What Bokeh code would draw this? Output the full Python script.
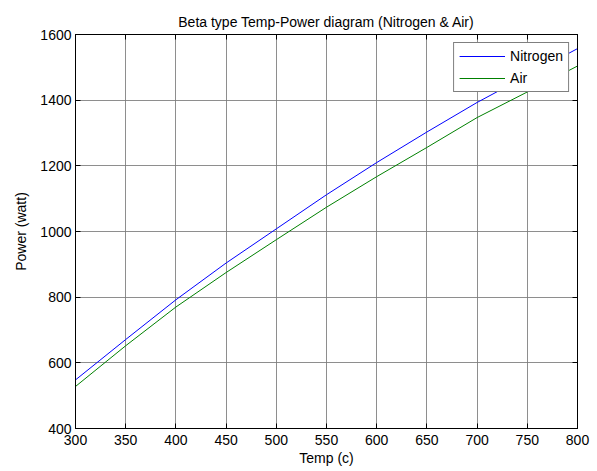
from bokeh.plotting import figure
from bokeh.models import LinearAxis, FixedTicker, Range1d, Legend, LegendItem
from bokeh.embed import file_html
from bokeh.resources import INLINE

temp = [300, 350, 400, 450, 500, 550, 600, 650, 700, 750, 800]
nitrogen = [548, 671, 792, 904, 1008, 1112, 1210, 1303, 1393, 1475, 1557]
air = [528, 652, 770, 875, 975, 1074, 1167, 1256, 1347, 1425, 1504]
x_ticks = [300, 350, 400, 450, 500, 550, 600, 650, 700, 750, 800]
y_ticks = [400, 600, 800, 1000, 1200, 1400, 1600]

FONT = "Liberation Sans"

p = figure(width=597, height=471, output_backend="svg", toolbar_location=None,
           x_range=Range1d(300, 800), y_range=Range1d(400, 1600),
           min_border_left=75, min_border_right=20, min_border_top=34, min_border_bottom=43,
           title="Beta type Temp-Power diagram (Nitrogen & Air)")
p.title.align = "center"
p.title.text_font = FONT
p.title.text_font_size = "14px"
p.title.text_font_style = "normal"
p.title.text_color = "#000000"

p.outline_line_color = "black"
p.outline_line_width = 1
p.background_fill_color = "white"
p.border_fill_color = "white"

for ax, ticks in ((p.xaxis[0], x_ticks), (p.yaxis[0], y_ticks)):
    ax.ticker = FixedTicker(ticks=ticks)
    ax.major_tick_in = 5
    ax.major_tick_out = 0
    ax.minor_tick_line_color = None
    ax.axis_line_color = "black"
    ax.major_tick_line_color = "black"
    ax.major_label_text_font = FONT
    ax.major_label_text_font_size = "14px"
    ax.major_label_text_color = "black"
    ax.axis_label_text_font = FONT
    ax.axis_label_text_font_size = "14px"
    ax.axis_label_text_font_style = "normal"
    ax.axis_label_text_color = "black"

p.xaxis[0].axis_label = "Temp (c)"
p.yaxis[0].axis_label = "Power (watt)"
p.xaxis[0].major_label_standoff = 6
p.yaxis[0].major_label_standoff = 4
p.xaxis[0].axis_label_standoff = 2
p.yaxis[0].axis_label_standoff = 8

for loc, ticks in (("right", y_ticks), ("above", x_ticks)):
    a = LinearAxis(ticker=FixedTicker(ticks=ticks))
    a.major_tick_in = 5
    a.major_tick_out = 0
    a.minor_tick_line_color = None
    a.axis_line_color = "black"
    a.major_label_text_font_size = "1px"
    a.major_label_text_color = None
    a.major_label_standoff = 0
    p.add_layout(a, loc)

p.xgrid.ticker = FixedTicker(ticks=x_ticks)
p.ygrid.ticker = FixedTicker(ticks=y_ticks)
for g in (p.xgrid[0], p.ygrid[0]):
    g.grid_line_color = "#7a7a7a"
    g.grid_line_alpha = 0.85
    g.grid_line_width = 1

r1 = p.line(temp, nitrogen, line_color="#0000ff", line_width=1)
r2 = p.line(temp, air, line_color="#008000", line_width=1)

legend = Legend(items=[LegendItem(label="Nitrogen", renderers=[r1]),
                       LegendItem(label="Air", renderers=[r2])],
                location="top_right")
legend.border_line_color = "black"
legend.border_line_width = 1
legend.background_fill_color = "white"
legend.background_fill_alpha = 1
legend.label_text_font = FONT
legend.label_text_font_size = "14px"
legend.label_text_color = "black"
legend.glyph_width = 46
legend.glyph_height = 12
legend.label_height = 12
legend.label_standoff = 5
legend.padding = 5
legend.spacing = 6
legend.margin = 8
p.add_layout(legend)

open("out.html", "w").write(file_html(p, INLINE))
